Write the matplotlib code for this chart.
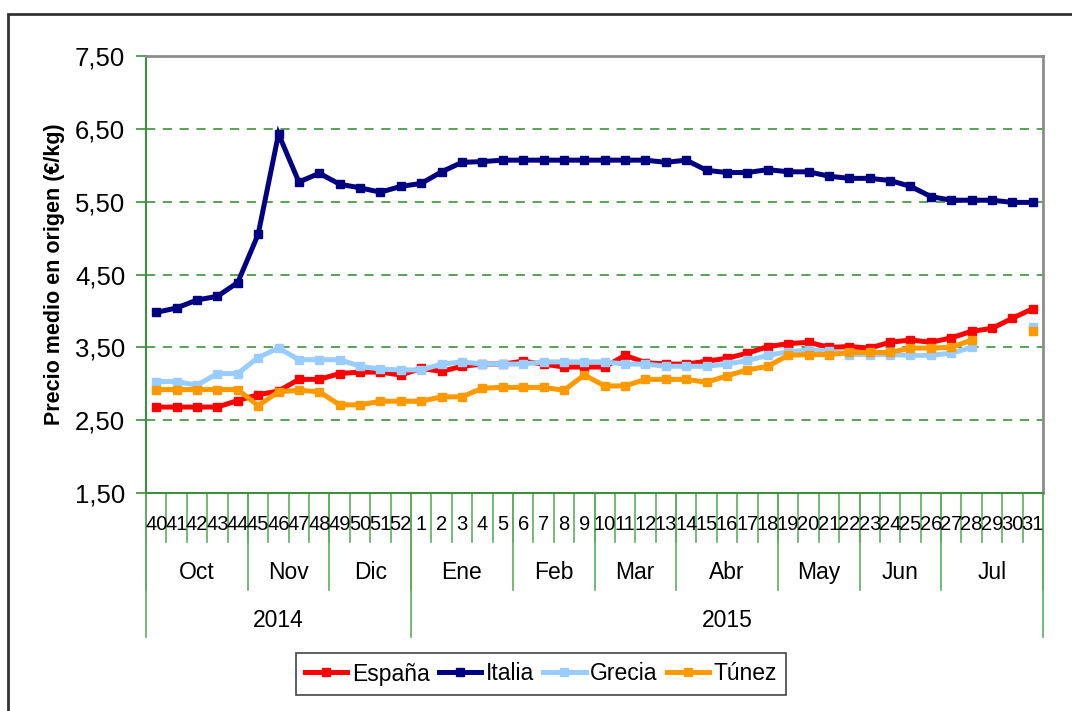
import numpy as np
import matplotlib.pyplot as plt
from matplotlib.transforms import blended_transform_factory

plt.rcParams['font.family'] = ['Liberation Sans', 'DejaVu Sans']

# semanas: 40-52 de 2014 y 1-31 de 2015
weeks = [str(w) for w in range(40, 53)] + [str(w) for w in range(1, 32)]
months = ['Oct', 'Nov', 'Dic', 'Ene', 'Feb', 'Mar', 'Abr', 'May', 'Jun', 'Jul']
month_len = [5, 4, 4, 5, 4, 4, 5, 4, 4, 5]
years = ['2014', '2015']
year_len = [13, 31]

espana = [2.68, 2.68, 2.68, 2.68, 2.77, 2.85, 2.90, 3.06, 3.06, 3.14, 3.16, 3.16, 3.12,
          3.21, 3.17, 3.24, 3.27, 3.27, 3.31, 3.27, 3.23, 3.23, 3.23, 3.39, 3.29, 3.27,
          3.27, 3.31, 3.35, 3.42, 3.51, 3.55, 3.57, 3.50, 3.51, 3.49, 3.57, 3.60, 3.57,
          3.63, 3.72, 3.76, 3.90, 4.03]
italia = [3.98, 4.04, 4.15, 4.20, 4.39, 5.05, 6.43, 5.77, 5.89, 5.74, 5.69, 5.63, 5.71,
          5.75, 5.91, 6.04, 6.05, 6.07, 6.07, 6.07, 6.07, 6.07, 6.07, 6.07, 6.07, 6.04,
          6.07, 5.93, 5.90, 5.90, 5.94, 5.91, 5.91, 5.85, 5.82, 5.82, 5.79, 5.71, 5.57,
          5.52, 5.52, 5.52, 5.49, 5.49]
grecia = [3.03, 3.03, 2.98, 3.14, 3.14, 3.36, 3.49, 3.33, 3.33, 3.33, 3.24, 3.20, 3.19,
          3.19, 3.27, 3.30, 3.27, 3.27, 3.27, 3.30, 3.30, 3.30, 3.30, 3.27, 3.27, 3.24,
          3.24, 3.24, 3.27, 3.32, 3.39, 3.44, 3.46, 3.45, 3.40, 3.40, 3.40, 3.39, 3.39,
          3.42, 3.50, np.nan, np.nan, 3.78]
tunez = [2.92, 2.92, 2.92, 2.92, 2.92, 2.70, 2.89, 2.91, 2.89, 2.71, 2.71, 2.76, 2.76,
         2.76, 2.82, 2.82, 2.94, 2.95, 2.95, 2.95, 2.91, 3.12, 2.97, 2.97, 3.06, 3.06,
         3.06, 3.02, 3.11, 3.19, 3.24, 3.39, 3.40, 3.40, 3.43, 3.43, 3.43, 3.49, 3.49,
         3.50, 3.60, np.nan, np.nan, 3.72]

series = [('España', espana, '#ff0000'), ('Italia', italia, '#000080'),
          ('Grecia', grecia, '#99ccff'), ('Túnez', tunez, '#ff9900')]

green = '#3c8f3c'
sep = '#5fae5f'

fig = plt.figure(figsize=(10.72, 7.11), dpi=100)
ax = fig.add_axes([146 / 1072, 1 - 493 / 711, (1043 - 146) / 1072, (493 - 56) / 711])

x = np.arange(len(weeks))
for i, (name, vals, col) in enumerate(series):
    ax.plot(x, vals, color=col, lw=3.6, marker='s', ms=5.5, label=name,
            solid_joinstyle='miter', zorder=3 + i)

ax.set_xlim(-0.5, len(weeks) - 0.5)
ax.set_ylim(1.5, 7.5)
yt = np.arange(1.5, 7.51, 1.0)
ax.set_yticks(yt)
ax.set_yticklabels([f'{v:.2f}'.replace('.', ',') for v in yt], fontsize=18.5)
ax.tick_params(axis='y', length=7, width=1.2, color=green, pad=8)
for v in yt[1:-1]:
    ax.axhline(v, color='#2a8a2a', lw=1.1, ls=(0, (6, 5)), zorder=1)

ax.spines['left'].set_color(green)
ax.spines['bottom'].set_color(green)
ax.spines['left'].set_linewidth(1.5)
ax.spines['bottom'].set_linewidth(1.5)
ax.spines['top'].set_color('#8c8c8c')
ax.spines['right'].set_color('#8c8c8c')
ax.spines['top'].set_linewidth(2)
ax.spines['right'].set_linewidth(2)

ax.set_ylabel('Precio medio en origen (€/kg)', fontsize=15.5, fontweight='bold', labelpad=7)

# eje x jerarquico: semana / mes / año
ax.set_xticks([])
tr = blended_transform_factory(ax.transData, ax.transAxes)
narrow = ['Liberation Sans Narrow', 'Liberation Sans', 'DejaVu Sans']
for i, w in enumerate(weeks):
    ax.text(i, -0.071, w, transform=tr, ha='center', va='center', fontsize=14.5,
            family=narrow)
for b in range(len(weeks) + 1):
    ax.plot([b - 0.5, b - 0.5], [0, -0.112], transform=tr, color=sep, lw=1.2,
            clip_on=False)

start = 0
for m, n in zip(months, month_len):
    ax.text(start + n / 2 - 0.5, -0.183, m, transform=tr, ha='center', va='center', fontsize=16.5)
    ax.plot([start - 0.5] * 2, [0, -0.222], transform=tr, color=sep, lw=1.2, clip_on=False)
    start += n
ax.plot([start - 0.5] * 2, [0, -0.222], transform=tr, color=sep, lw=1.2, clip_on=False)

start = 0
for yr, n in zip(years, year_len):
    ax.text(start + n / 2 - 0.5, -0.291, yr, transform=tr, ha='center', va='center', fontsize=16.5)
    ax.plot([start - 0.5] * 2, [0, -0.33], transform=tr, color=sep, lw=1.2, clip_on=False)
    start += n
ax.plot([start - 0.5] * 2, [0, -0.33], transform=tr, color=sep, lw=1.2, clip_on=False)

leg = fig.legend(loc='center', bbox_to_anchor=(541 / 1072, 1 - 674 / 711), ncol=4,
                 fontsize=16.5, fancybox=False, edgecolor='#444444', framealpha=1,
                 handlelength=1.85, handletextpad=0.2, columnspacing=0.4,
                 borderpad=0.4, borderaxespad=0)
leg.get_frame().set_linewidth(1.2)

# marco exterior
fig.patches.append(plt.Rectangle((8 / 1072, -0.1), 1.2, 1.1 - 14 / 711, fill=False,
                                 edgecolor='#333333', lw=2, transform=fig.transFigure))

fig.savefig('out.png', dpi=100)
